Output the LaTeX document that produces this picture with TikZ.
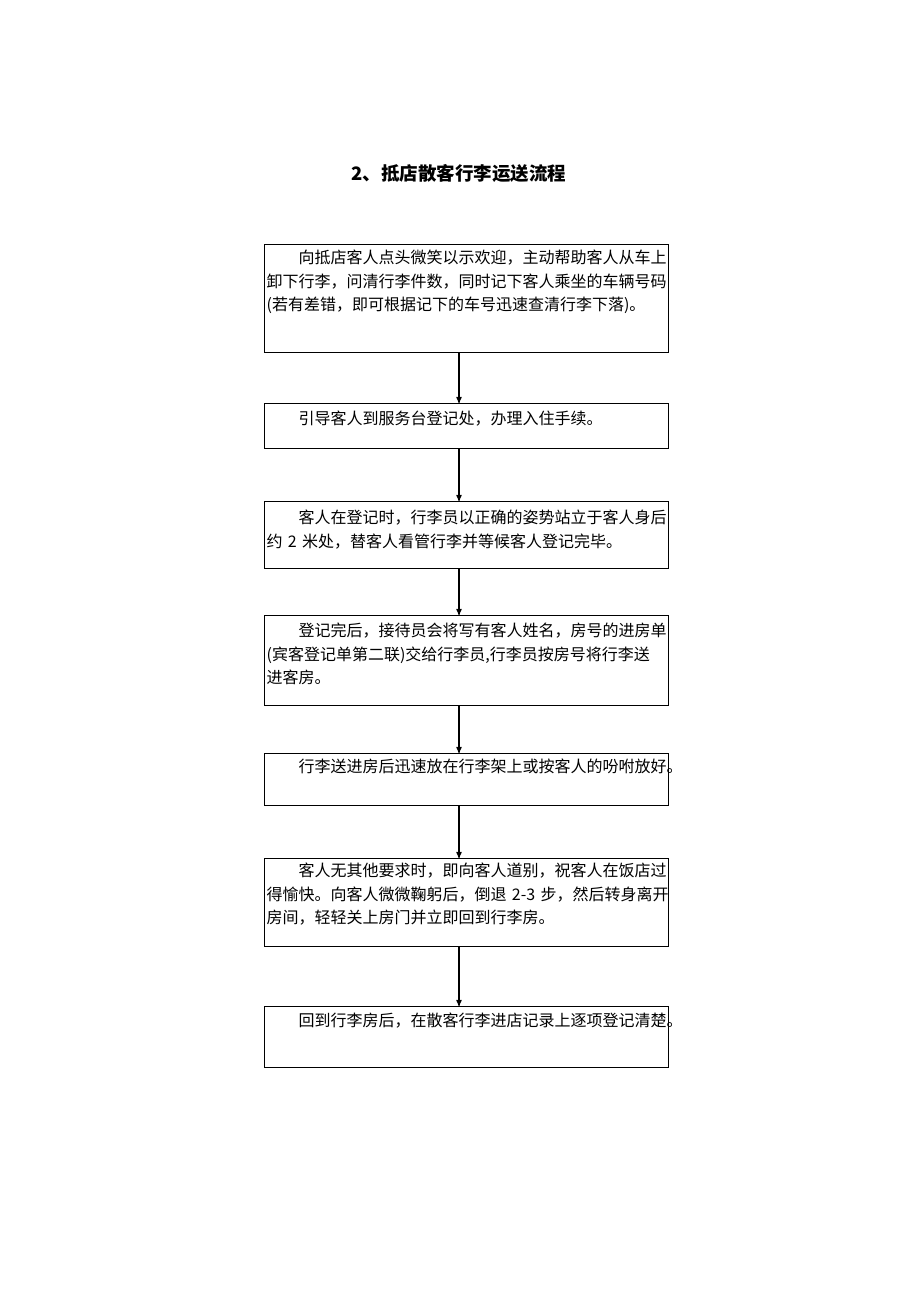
\documentclass[tikz,border=0pt]{standalone}
\usepackage{fontspec}
\newfontfamily\cjk{Noto Sans CJK SC}
\usetikzlibrary{arrows,positioning}
\tikzset{box node/.style={rectangle,draw,anchor=north west,text width=400pt,inner xsep=2pt,inner ysep=0pt,align=left,line width=1.2pt,font=\cjk\fontsize{16pt}{23.5pt}\selectfont},
         title node/.style={font=\cjk\bfseries\fontsize{18.5pt}{22pt}\selectfont}
}

\begin{document}
\begin{tikzpicture}[->,>=stealth',
x=1pt, y=-1pt,
line width=1.2pt]
% \draw[help lines] (0,0) grid (920,1302);
\useasboundingbox (0,0) rectangle (920,1302);
\node [title node] (0) at (459,173) {2、抵店散客行李运送流程};
\coordinate (ax) at (459,0);

\node [box node,text height=19pt,text depth=89pt] (1) at (264,244)
    {\hspace*{2em}向抵店客人点头微笑以示欢迎，主动帮助客人从车上\\
     卸下行李，问清行李件数，同时记下客人乘坐的车辆号码\\
     (若有差错，即可根据记下的车号迅速查清行李下落)。};
\node [box node,text height=21pt,text depth=24pt] (2) at (264,403)
    {\hspace*{2em}引导客人到服务台登记处，办理入住手续。};
\node [box node,text height=22pt,text depth=45pt] (3) at (264,501)
    {\hspace*{2em}客人在登记时，行李员以正确的姿势站立于客人身后\\
     \mbox{约 2 米处，替客人看管行李并等候客人登记完毕。}};
\node [box node,text height=21pt,text depth=69pt] (4) at (264,615)
    {\hspace*{2em}登记完后，接待员会将写有客人姓名，房号的进房单\\
     (宾客登记单第二联)交给行李员,行李员按房号将行李送\\
     进客房。};
\node [box node,text height=19pt,text depth=33pt] (5) at (264,753)
    {\hspace*{2em}行李送进房后迅速放在行李架上或按客人的吩咐放好。};
\node [box node,text height=18pt,text depth=70pt] (6) at (264,858)
    {\hspace*{2em}客人无其他要求时，即向客人道别，祝客人在饭店过\\
     \mbox{得愉快。向客人微微鞠躬后，倒退 2-3 步，然后转身离开}\\
     房间，轻轻关上房门并立即回到行李房。};
\node [box node,text height=20pt,text depth=41pt] (7) at (264,1006)
    {\hspace*{2em}回到行李房后，在散客行李进店记录上逐项登记清楚。};

\draw (1.south -| ax) -- (2.north -| ax);
\draw (2.south -| ax) -- (3.north -| ax);
\draw (3.south -| ax) -- (4.north -| ax);
\draw (4.south -| ax) -- (5.north -| ax);
\draw (5.south -| ax) -- (6.north -| ax);
\draw (6.south -| ax) -- (7.north -| ax);

\end{tikzpicture}
\end{document}
